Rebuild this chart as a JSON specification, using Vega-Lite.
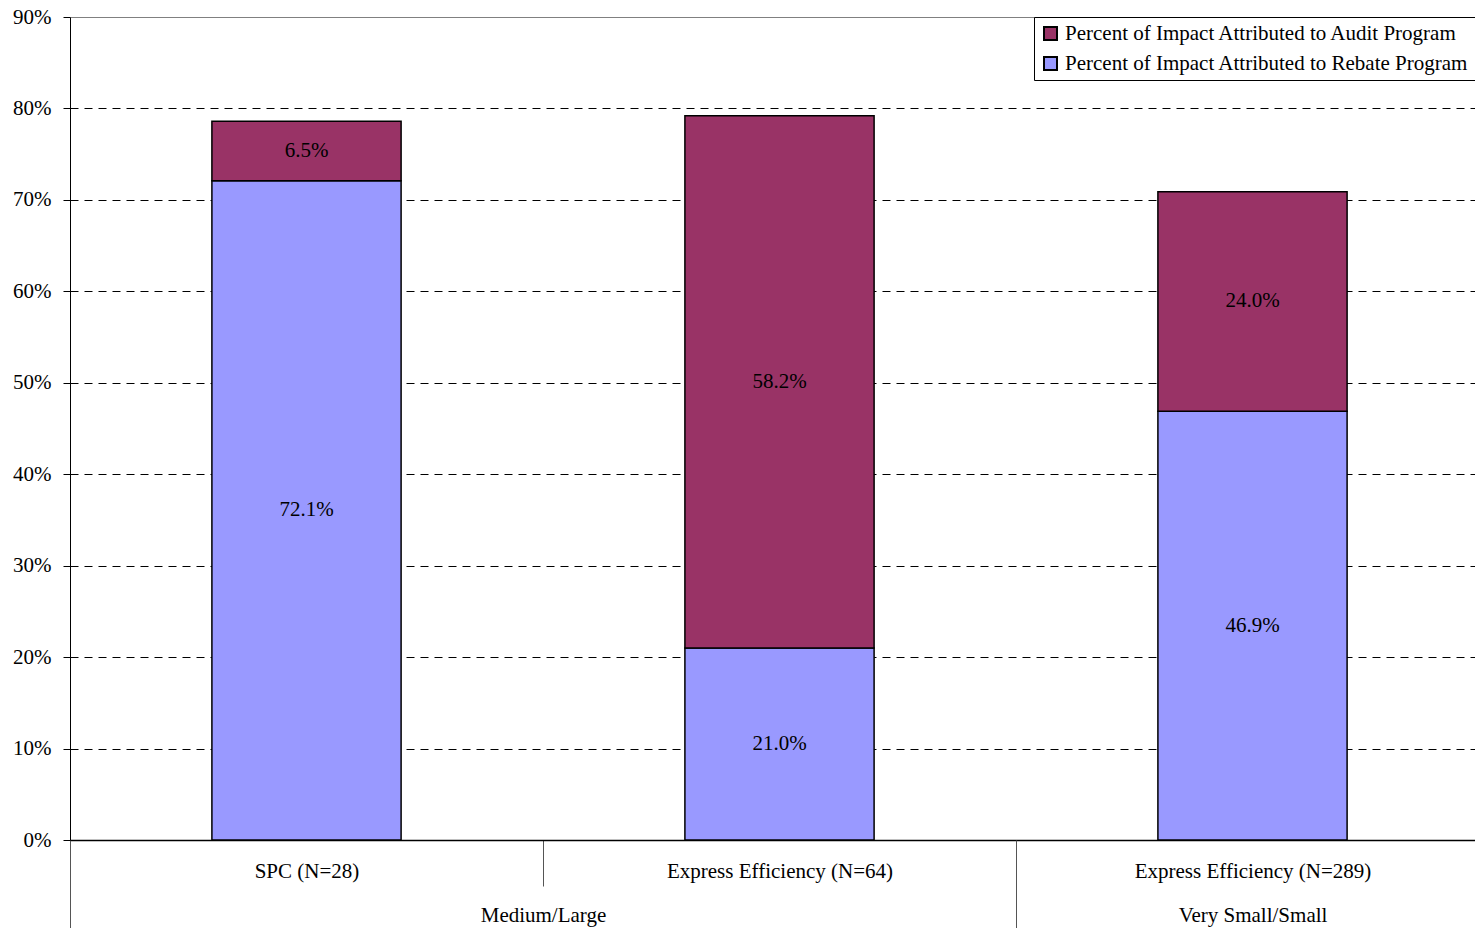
{
  "$schema": "https://vega.github.io/schema/vega-lite/v6.json",
  "width": 1405,
  "height": 823,
  "autosize": {"type": "none"},
  "padding": {"left": 70, "top": 17, "right": 0, "bottom": 88},
  "background": "white",
  "view": {"stroke": null},
  "config": {"font": "Liberation Serif"},
  "data": {
    "values": [
      {"category": "SPC (N=28)", "group": "Medium/Large", "series": "Percent of Impact Attributed to Rebate Program", "value": 0.721},
      {"category": "SPC (N=28)", "group": "Medium/Large", "series": "Percent of Impact Attributed to Audit Program", "value": 0.065},
      {"category": "Express Efficiency (N=64)", "group": "Medium/Large", "series": "Percent of Impact Attributed to Rebate Program", "value": 0.21},
      {"category": "Express Efficiency (N=64)", "group": "Medium/Large", "series": "Percent of Impact Attributed to Audit Program", "value": 0.582},
      {"category": "Express Efficiency (N=289)", "group": "Very Small/Small", "series": "Percent of Impact Attributed to Rebate Program", "value": 0.469},
      {"category": "Express Efficiency (N=289)", "group": "Very Small/Small", "series": "Percent of Impact Attributed to Audit Program", "value": 0.24}
    ]
  },
  "transform": [
    {"stack": "value", "groupby": ["category"], "sort": [{"field": "series", "order": "descending"}], "as": ["y0", "y1"]},
    {"calculate": "(datum.y0 + datum.y1) / 2", "as": "ymid"}
  ],
  "resolve": {"axis": {"x": "independent"}},
  "layer": [
    {
      "mark": {"type": "bar", "width": {"band": 0.4}, "stroke": "black", "strokeWidth": 1.5},
      "encoding": {
        "x": {
          "field": "category",
          "type": "nominal",
          "sort": ["SPC (N=28)", "Express Efficiency (N=64)", "Express Efficiency (N=289)"],
          "scale": {"range": [0, 1419], "paddingInner": 0, "paddingOuter": 0},
          "title": null,
          "axis": {
            "orient": "bottom",
            "labelAngle": 0,
            "labelFontSize": 21,
            "labelFont": "Liberation Serif",
            "labelColor": "black",
            "labelOverlap": false,
            "labelBound": false,
            "labelLimit": 0,
            "tickBand": "extent",
            "tickSize": 46,
            "tickColor": "#555555",
            "tickWidth": 1,
            "labelPadding": -26,
            "domainColor": "black",
            "domainWidth": 1.5,
            "grid": false
          }
        },
        "y": {
          "field": "y0",
          "type": "quantitative",
          "scale": {"domain": [0, 0.9], "nice": false},
          "title": null,
          "axis": {
            "format": ".0%",
            "values": [0, 0.1, 0.2, 0.3, 0.4, 0.5, 0.6, 0.7, 0.8, 0.9],
            "tickSize": 7,
            "tickColor": "black",
            "domainColor": "black",
            "labelPadding": 12,
            "labelFontSize": 21,
            "labelFont": "Liberation Serif",
            "labelColor": "black",
            "grid": true,
            "gridColor": {"condition": {"test": "datum.value >= 0.89", "value": "#808080"}, "value": "black"},
            "gridDash": {"condition": {"test": "datum.value >= 0.89", "value": []}, "value": [8, 6]},
            "gridWidth": 1
          }
        },
        "y2": {"field": "y1"},
        "color": {
          "field": "series",
          "type": "nominal",
          "scale": {
            "domain": ["Percent of Impact Attributed to Audit Program", "Percent of Impact Attributed to Rebate Program"],
            "range": ["#993366", "#9999FF"]
          },
          "legend": {
            "title": null,
            "orient": "top-right",
            "offset": 0,
            "strokeColor": "black",
            "fillColor": "white",
            "padding": 6,
            "labelFontSize": 21,
            "labelFont": "Liberation Serif",
            "labelColor": "black",
            "labelLimit": 0,
            "labelOffset": 4,
            "symbolType": "square",
            "symbolSize": 169,
            "symbolStrokeColor": "black",
            "symbolStrokeWidth": 2,
            "symbolOpacity": 1,
            "rowPadding": 8
          }
        }
      }
    },
    {
      "mark": {"type": "text", "fontSize": 21, "font": "Liberation Serif", "color": "black"},
      "encoding": {
        "x": {
          "field": "category",
          "type": "nominal",
          "sort": ["SPC (N=28)", "Express Efficiency (N=64)", "Express Efficiency (N=289)"],
          "scale": {"range": [0, 1419], "paddingInner": 0, "paddingOuter": 0},
          "title": null,
          "axis": {
            "orient": "bottom",
            "domain": false,
            "labelAngle": 0,
            "labelFontSize": 21,
            "labelFont": "Liberation Serif",
            "labelColor": "black",
            "labelOverlap": false,
            "labelBound": false,
            "labelLimit": 0,
            "labelExpr": "datum.value === 'Express Efficiency (N=64)' ? 'Medium/Large' : (datum.value === 'Express Efficiency (N=289)' ? 'Very Small/Small' : '')",
            "labelOffset": {"condition": {"test": "datum.value === 'Express Efficiency (N=64)'", "value": -236.5}, "value": 0},
            "tickBand": "extent",
            "tickSize": 88,
            "tickColor": "#555555",
            "tickWidth": 1,
            "tickOpacity": {"condition": {"test": "datum.value === 'SPC (N=28)'", "value": 0}, "value": 1},
            "labelPadding": -24,
            "grid": false
          }
        },
        "y": {"field": "ymid", "type": "quantitative"},
        "text": {"field": "value", "type": "quantitative", "format": ".1%"}
      }
    }
  ]
}
